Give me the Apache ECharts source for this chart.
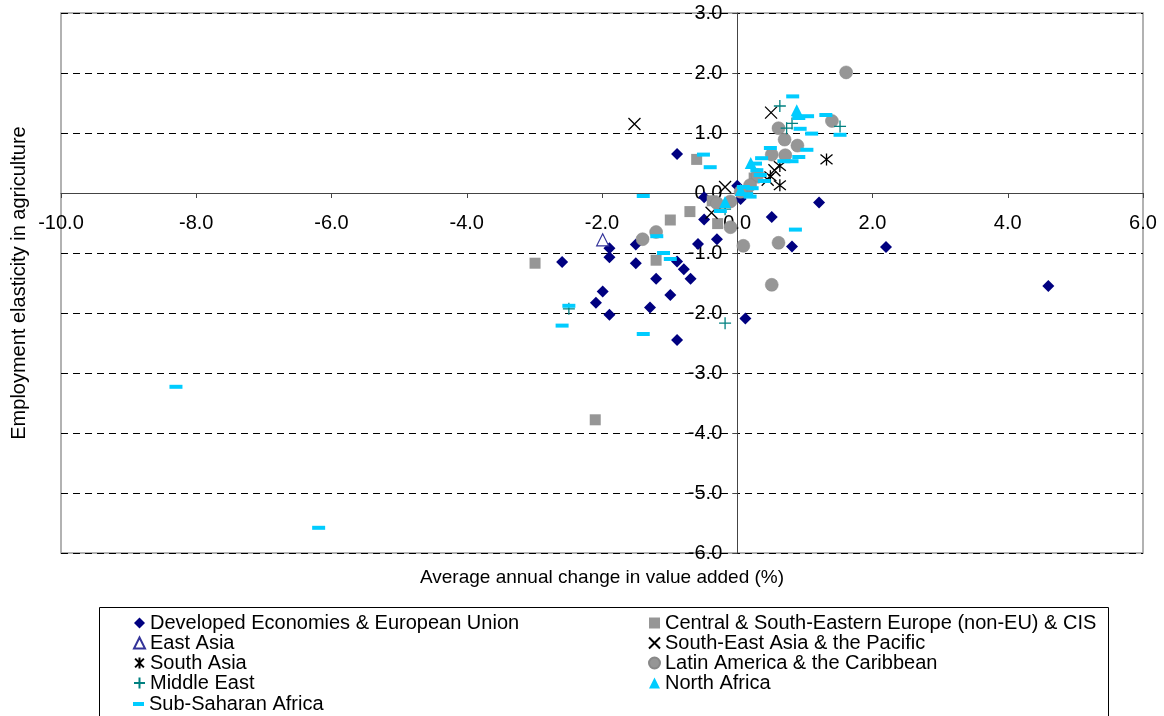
<!DOCTYPE html>
<html>
<head>
<meta charset="utf-8">
<script src="https://cdn.jsdelivr.net/npm/echarts@6/dist/echarts.min.js"></script>
<style>
html,body{margin:0;padding:0;background:#fff;}
#chart{width:1164px;height:716px;}
</style>
</head>
<body>
<div id="chart"></div>
<script>
// ---- Data (x: average annual change in value added %, y: employment elasticity) ----
const seriesNames = [
  'Developed Economies & European Union',
  'Central & South-Eastern Europe (non-EU) & CIS',
  'East Asia',
  'South-East Asia & the Pacific',
  'South Asia',
  'Latin America & the Caribbean',
  'Middle East',
  'North Africa',
  'Sub-Saharan Africa'
];
const developed = [[-0.89,0.65],[-2.59,-1.15],[-1.89,-0.92],[-1.89,-1.07],[-1.50,-0.86],[-1.50,-1.17],[-1.20,-1.43],[-0.99,-1.70],[-0.89,-1.14],[-0.79,-1.27],[-0.69,-1.43],[-1.99,-1.64],[-2.09,-1.83],[-1.89,-2.03],[-1.29,-1.91],[-0.89,-2.45],[-0.58,-0.85],[-0.30,-0.77],[-0.49,-0.44],[-0.49,-0.07],[0.12,-2.09],[0.51,-0.40],[0.81,-0.89],[1.21,-0.16],[2.20,-0.90],[4.60,-1.55],[0.00,0.12],[0.05,-0.10]];
const central = [[-2.99,-1.17],[-2.10,-3.78],[-1.20,-1.12],[-0.99,-0.45],[-0.70,-0.31],[-0.60,0.56],[-0.29,-0.51],[-0.37,-0.13],[0.25,0.25],[0.15,0.02]];
const eastAsia = [[-1.99,-0.78]];
const seAsia = [[-1.52,1.15],[0.50,1.34],[-0.18,0.10],[-0.38,-0.33],[0.45,0.22],[0.55,0.38]];
const southAsia = [[1.32,0.56],[0.63,0.45],[0.63,0.13],[0.49,0.28]];
const latin = [[1.61,2.01],[1.40,1.20],[0.61,1.08],[0.70,0.89],[0.89,0.79],[0.71,0.63],[0.51,0.64],[-1.20,-0.65],[-1.40,-0.77],[-0.10,-0.57],[0.09,-0.88],[0.61,-0.83],[0.51,-1.53],[0.19,0.13],[-0.10,-0.14],[-0.30,-0.17],[0.30,0.30],[0.05,0.02]];
const middleEast = [[-2.49,-1.93],[-0.18,-2.17],[-0.18,-0.27],[0.63,1.45],[0.73,1.08],[0.81,1.16],[1.52,1.11]];
const northAfrica = [[0.88,1.38],[0.20,0.50],[-0.18,-0.15],[0.05,0.05]];
const subSaharan = [[-8.30,-3.23],[-6.19,-5.58],[-2.49,-1.88],[-2.59,-2.21],[-1.39,-2.35],[-1.39,-0.05],[-1.19,-0.72],[-1.09,-1.00],[-0.99,-1.10],[-0.50,0.64],[-0.40,0.43],[0.82,1.61],[1.04,1.28],[1.31,1.30],[1.52,0.97],[1.10,0.99],[0.91,1.25],[0.93,1.07],[1.03,0.72],[0.91,0.60],[0.69,0.53],[0.49,0.75],[0.36,0.58],[0.86,-0.61],[0.27,0.49],[0.29,0.38],[0.34,0.30],[0.22,0.08],[0.14,-0.02],[0.19,-0.06],[0.09,0.10],[-0.25,-0.30],[0.40,0.20],[0.81,0.53]];
const xTitle = 'Average annual change in value added (%)';
const yTitle = 'Employment elasticity in agriculture';

// ---- Chart ----
const FONT = '"Liberation Sans", Arial, sans-serif';
const FS = 20;
const X_PATH = 'path://M0,0 L10,10 M10,0 L0,10';
const AST_PATH = 'path://M1,1 L9,9 M9,1 L1,9 M5,0 L5,10';
const PLUS_PATH = 'path://M5,0 L5,10 M0,5 L10,5';

// grid geometry
const GL = 61, GT = 13, GR = 21, GB = 163, W = 1164, H = 716;
const X_MIN = -10, X_MAX = 6, Y_MIN = -6, Y_MAX = 3;
const plotW = W - GL - GR, plotH = H - GT - GB;
// axes cross at zero: shift each axis from its grid edge to the other axis's zero
const xAxisOffset = -(plotH * (0 - Y_MIN) / (Y_MAX - Y_MIN));
const yAxisOffset = -(plotW * (0 - X_MIN) / (X_MAX - X_MIN));

function sc(name, data, symbol, size, itemStyle) {
  itemStyle.opacity = 1;
  return {
    name: name, type: 'scatter', data: data, symbol: symbol, symbolSize: size,
    itemStyle: itemStyle, emphasis: {disabled: true}, silent: true
  };
}

const chart = echarts.init(document.getElementById('chart'), null, {renderer: 'canvas'});
const legendText = {fontFamily: FONT, fontSize: FS, color: '#000', lineHeight: 20};
chart.setOption({
  animation: false,
  textStyle: {fontFamily: FONT},
  grid: {left: GL, top: GT, right: GR, bottom: GB, containLabel: false, outerBoundsMode: 'none',
         show: true, borderColor: '#999', borderWidth: 1.5, backgroundColor: 'transparent'},
  xAxis: {
    type: 'value', min: X_MIN, max: X_MAX, interval: 2, position: 'bottom', offset: xAxisOffset,
    axisLine: {onZero: false, lineStyle: {color: '#444', width: 1}},
    axisTick: {show: true, length: 5, lineStyle: {color: '#444'}},
    axisLabel: {formatter: v => v.toFixed(1), color: '#000', fontSize: FS, fontFamily: FONT, margin: 20},
    splitLine: {show: false},
    name: xTitle, nameLocation: 'middle', nameGap: 375,
    nameTextStyle: {fontSize: 19, color: '#000', fontFamily: FONT}
  },
  yAxis: {
    type: 'value', min: Y_MIN, max: Y_MAX, interval: 1, position: 'left', offset: yAxisOffset,
    axisLine: {onZero: false, lineStyle: {color: '#444', width: 1}},
    axisTick: {show: true, length: 5, lineStyle: {color: '#444'}},
    axisLabel: {formatter: v => v.toFixed(1), color: '#000', fontSize: FS, fontFamily: FONT, margin: 15},
    splitLine: {show: true, lineStyle: {color: '#000', type: [7, 5], width: 1}},
    name: yTitle, nameLocation: 'middle', nameGap: 708, nameRotate: 90,
    nameTextStyle: {fontSize: FS, color: '#000', fontFamily: FONT}
  },
  legend: [
    {left: 128, top: 608, orient: 'vertical', itemGap: 0, itemWidth: 11, itemHeight: 11,
     textStyle: legendText, selectedMode: false,
     data: [seriesNames[0], seriesNames[2], seriesNames[4], seriesNames[6]]},
    {left: 128, top: 689, orient: 'vertical', itemGap: 0, itemWidth: 11, itemHeight: 4,
     textStyle: legendText, selectedMode: false,
     data: [seriesNames[8]]},
    {left: 643, top: 608, orient: 'vertical', itemGap: 0, itemWidth: 11, itemHeight: 11,
     textStyle: legendText, selectedMode: false,
     data: [seriesNames[1], seriesNames[3], seriesNames[5], seriesNames[7]]}
  ],
  graphic: [{type: 'rect', left: 97, top: 605, shape: {width: 1009, height: 110},
    style: {fill: 'none', stroke: '#000', lineWidth: 1}, silent: true}],
  series: [
    sc(seriesNames[0], developed, 'diamond', 12, {color: '#000080'}),
    sc(seriesNames[1], central, 'rect', 11, {color: '#969696'}),
    sc(seriesNames[2], eastAsia, 'triangle', 12, {color: '#ffffff', borderColor: '#333399', borderWidth: 1.2}),
    sc(seriesNames[3], seAsia, X_PATH, 12, {color: 'transparent', borderColor: '#000', borderWidth: 1.3}),
    sc(seriesNames[4], southAsia, AST_PATH, 12, {color: 'transparent', borderColor: '#000', borderWidth: 1.3}),
    sc(seriesNames[5], latin, 'circle', 13, {color: '#969696', borderColor: '#888', borderWidth: 0.5}),
    sc(seriesNames[6], middleEast, PLUS_PATH, 12, {color: 'transparent', borderColor: '#008080', borderWidth: 1.3}),
    sc(seriesNames[7], northAfrica, 'triangle', 12, {color: '#00CCFF'}),
    sc(seriesNames[8], subSaharan, 'rect', [13, 4], {color: '#00CCFF'})
  ]
});
</script>
</body>
</html>
